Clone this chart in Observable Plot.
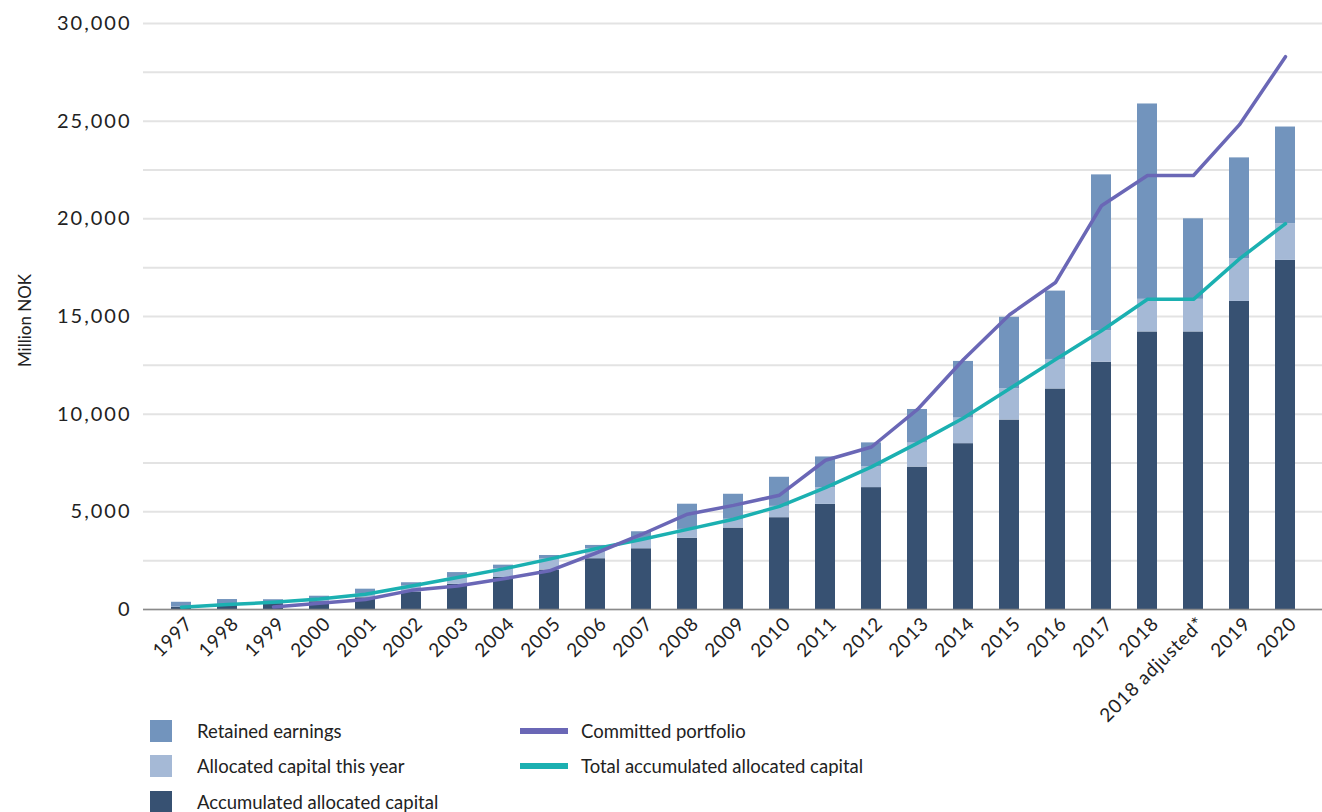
<!DOCTYPE html>
<html><head><meta charset="utf-8">
<script src="https://cdn.jsdelivr.net/npm/d3@7"></script>
<script src="https://cdn.jsdelivr.net/npm/@observablehq/plot@0.6"></script>
<style>
body{margin:0;background:#fff;font-family:Lato,"Open Sans",sans-serif;}
#chart svg{display:block;overflow:visible}
#chart g[aria-label="y-axis tick label"] text{letter-spacing:2px}
#chart g[aria-label="x-axis tick label"] text{letter-spacing:0.8px}
.legend{display:grid;grid-template-columns:370px 420px;grid-auto-rows:35.5px;margin-left:150px;margin-top:1px;font-size:18.5px;line-height:1.1;color:#222}
.item{display:flex;align-items:center}
.sq{width:22px;height:22px;margin-right:25px;flex:none}
.ln{width:48px;height:6px;margin-right:13px;flex:none}
</style></head><body>
<div id="chart"></div>
<div class="legend" id="legend"></div>
<script>
const categories = ["1997","1998","1999","2000","2001","2002","2003","2004","2005","2006","2007","2008","2009","2010","2011","2012","2013","2014","2015","2016","2017","2018","2018 adjusted*","2019","2020"];
const accumulatedAllocated = [110,220,300,400,600,900,1290,1640,2020,2600,3110,3650,4170,4700,5380,6240,7290,8490,9700,11290,12660,14210,14210,15770,17870];
const allocatedThisYear = [10,30,70,140,180,300,350,440,560,510,470,450,450,580,860,1060,1230,1310,1600,1510,1610,1670,1670,2180,1880];
const retainedEarnings = [250,260,130,140,260,170,250,190,185,170,400,1290,1280,1490,1570,1230,1720,2900,3660,3500,7980,10000,4120,5170,4950];
const committedPortfolio = [null,null,130,320,510,980,1200,1570,1980,2880,3840,4880,5330,5850,7640,8320,10240,12800,15090,16740,20670,22220,22220,24820,28300];
const totalAccumulated = [120,250,370,540,780,1200,1640,2080,2580,3110,3580,4100,4620,5280,6240,7300,8520,9800,11300,12800,14270,15880,15880,17950,19750];
const yTicks = [0,5000,10000,15000,20000,25000,30000];
const yGrid = [0,2500,5000,7500,10000,12500,15000,17500,20000,22500,25000,27500,30000];

const barSeries = ["Accumulated allocated capital","Allocated capital this year","Retained earnings"];
const barColors = ["#375172","#a5b9d6","#7294bd"];
const lineColors = {committed:"#6a67b6", total:"#1bb0b1"};

const rows = [];
categories.forEach((c,i)=>{
  rows.push({cat:c, series:barSeries[0], value:accumulatedAllocated[i]});
  rows.push({cat:c, series:barSeries[1], value:allocatedThisYear[i]});
  rows.push({cat:c, series:barSeries[2], value:retainedEarnings[i]});
});
const lineRows = categories.map((c,i)=>({cat:c, committed:committedPortfolio[i], total:totalAccumulated[i]}));

const chart = Plot.plot({
  width:1322, height:712,
  marginLeft:143, marginRight:0, marginTop:23, marginBottom:103,
  style:{fontFamily:"Lato, 'Open Sans', sans-serif", overflow:"visible", background:"transparent", color:"#222"},
  x:{type:"band", domain:categories, paddingInner:0.57, paddingOuter:0.36, label:null},
  y:{domain:[0,30000], label:null},
  color:{domain:barSeries, range:barColors},
  marks:[
    Plot.gridY(yGrid, {stroke:"#e3e3e3", strokeOpacity:1, strokeWidth:2}),
    Plot.axisY(yTicks, {tickSize:0, tickPadding:12, fontSize:20, tickFormat:d3.format(","), label:null}),
    Plot.text(["Million NOK"], {frameAnchor:"left", rotate:-90, dx:-118, dy:4, textAnchor:"middle", fontSize:17, fill:"#222"}),
    Plot.axisX({tickSize:0, tickRotate:-45, fontSize:19, tickPadding:11, dx:8, label:null}),
    Plot.barY(rows, {x:"cat", y:"value", fill:"series", order:barSeries}),
    Plot.ruleY([0], {stroke:"#8a8a8a", strokeWidth:1.5}),
    Plot.line(lineRows, {x:"cat", y:"total", stroke:lineColors.total, strokeWidth:3.5}),
    Plot.line(lineRows, {x:"cat", y:"committed", stroke:lineColors.committed, strokeWidth:3.5})
  ]
});
document.getElementById("chart").append(chart);

const legendItems = [
  {label:"Retained earnings", color:barColors[2], kind:"sq"},
  {label:"Committed portfolio", color:lineColors.committed, kind:"ln"},
  {label:"Allocated capital this year", color:barColors[1], kind:"sq"},
  {label:"Total accumulated allocated capital", color:lineColors.total, kind:"ln"},
  {label:"Accumulated allocated capital", color:barColors[0], kind:"sq"}
];
const lg = document.getElementById("legend");
legendItems.forEach(it=>{
  const d = document.createElement("div"); d.className="item";
  const s = document.createElement("span"); s.className=it.kind; s.style.background=it.color;
  const t = document.createElement("span"); t.textContent=it.label;
  d.append(s,t); lg.append(d);
});
</script>
</body></html>
